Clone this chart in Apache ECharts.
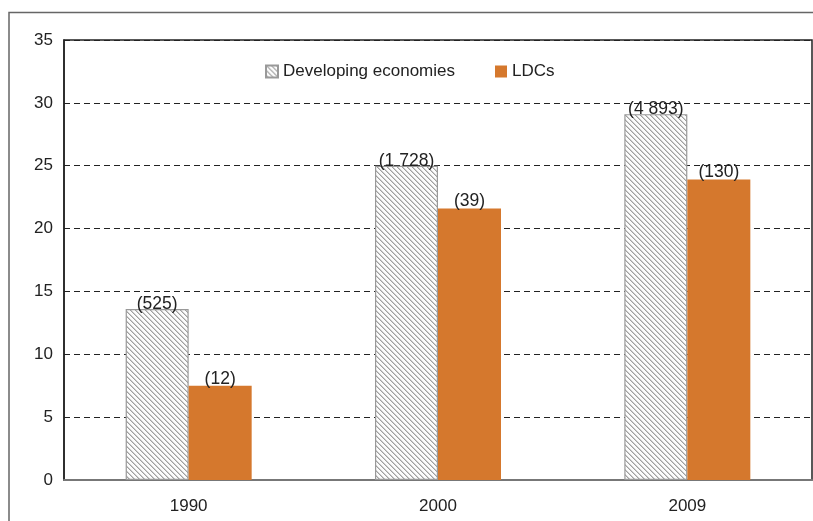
<!DOCTYPE html>
<html>
<head>
<meta charset="utf-8">
<script src="https://cdn.jsdelivr.net/npm/echarts@6/dist/echarts.min.js"></script>
<style>
html,body{margin:0;padding:0;background:#fff;}
#chart{width:813px;height:521px;}
</style>
</head>
<body>
<div id="chart"></div>
<script>
var categories = ['1990', '2000', '2009'];
var seriesNames = ['Developing economies', 'LDCs'];
var developingValues = [13.6, 25.0, 29.1];
var ldcValues = [7.5, 21.6, 23.9];
var developingLabels = ['(525)', '(1 728)', '(4 893)'];
var ldcLabels = ['(12)', '(39)', '(130)'];
var yTicks = [0, 5, 10, 15, 20, 25, 30, 35];

// hatch pattern
var n = 5;
var cv = document.createElement('canvas');
cv.width = n; cv.height = n;
var cx = cv.getContext('2d');
var img = cx.createImageData(n, n);
for (var y = 0; y < n; y++) {
  for (var x = 0; x < n; x++) {
    var d = ((x - y) % n + n) % n;
    var v = d === 0 ? 160 : (d === 1 ? 205 : 252);
    var i = (y * n + x) * 4;
    img.data[i] = v; img.data[i+1] = v; img.data[i+2] = v; img.data[i+3] = 255;
  }
}
cx.putImageData(img, 0, 0);

var font = 'Liberation Sans, Arial, sans-serif';
var chart = echarts.init(document.getElementById('chart'));
chart.setOption({
  animation: false,
  backgroundColor: '#fff',
  textStyle: {fontFamily: font},
  grid: {left: 64, right: 1, top: 40, bottom: 41, show: true, borderColor: '#222', borderWidth: 1.5, backgroundColor: 'transparent'},
  legend: {
    left: 260, top: 58, itemWidth: 12, itemHeight: 12, itemGap: 40, icon: 'rect',
    textStyle: {fontSize: 17, color: '#222', fontFamily: font},
    data: seriesNames
  },
  graphic: [{
    type: 'polyline', silent: true,
    shape: {points: [[9, 521], [9, 12.5], [813, 12.5]]},
    style: {stroke: '#666', lineWidth: 1.5, fill: null}
  }],
  xAxis: {
    type: 'category', data: categories,
    axisLine: {show: true, lineStyle: {color: '#777', width: 2}},
    axisTick: {show: false},
    axisLabel: {color: '#222', fontSize: 17, margin: 18, fontFamily: font}
  },
  yAxis: {
    type: 'value', min: yTicks[0], max: yTicks[yTicks.length - 1], interval: 5,
    axisLine: {show: true, lineStyle: {color: '#222', width: 1.5}},
    axisTick: {show: false},
    axisLabel: {color: '#222', fontSize: 17, margin: 11, fontFamily: font},
    splitLine: {show: true, lineStyle: {color: '#222', width: 1, type: [6, 4]}}
  },
  series: [{
    name: seriesNames[0], type: 'bar', barWidth: 63, barGap: '0%',
    data: developingValues,
    itemStyle: {color: {image: cv, repeat: 'repeat'}, borderColor: '#999', borderWidth: 1.2},
    label: {show: true, position: 'top', distance: -4, fontSize: 17.5, color: '#222', fontFamily: font,
      formatter: function (p) { return developingLabels[p.dataIndex]; }}
  }, {
    name: seriesNames[1], type: 'bar', barWidth: 63, barGap: '0%',
    data: ldcValues,
    itemStyle: {color: '#D5782D'},
    label: {show: true, position: 'top', distance: -2, fontSize: 17.5, color: '#222', fontFamily: font,
      formatter: function (p) { return ldcLabels[p.dataIndex]; }}
  }]
});
</script>
</body>
</html>
